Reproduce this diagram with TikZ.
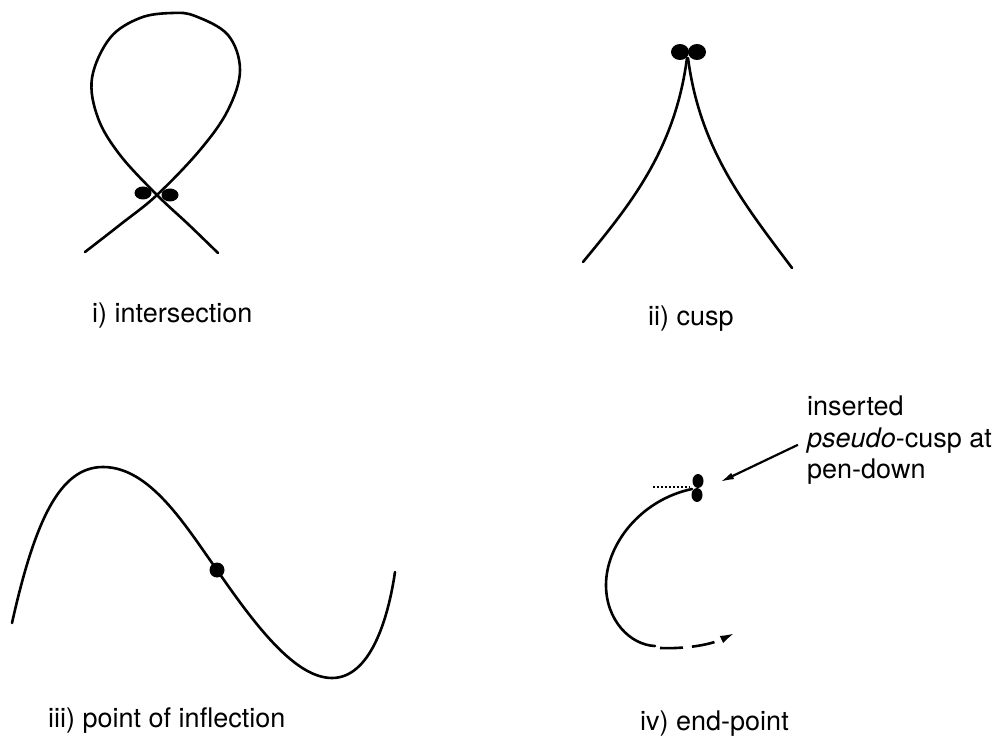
\documentclass[tikz,border=0pt]{standalone}
\usepackage{fontspec}
\setmainfont{TeX Gyre Heros}
\usetikzlibrary{arrows.meta,positioning}

\begin{document}
\begin{tikzpicture}[x=1pt,y=-1pt,
    curve/.style={line width=2.6pt, line cap=round},
    blob/.style={fill=black},
    caption/.style={anchor=base west, inner sep=0pt, font=\fontsize{27}{31.5}\selectfont}]
  \useasboundingbox (0,0) rectangle (1002,743);

  % i) intersection
  \draw[curve] plot[smooth, tension=0.6] coordinates {(85,252) (121,224) (157,195) (200,150) (228,110) (240,70)
      (228,35) (195,16) (172,13) (140,18) (110,38) (92,78) (98,118) (120,155) (157,195) (188,224) (218,253)};
  \fill[blob] (143,193) ellipse [x radius=8.5pt, y radius=6.5pt];
  \fill[blob] (170,195) ellipse [x radius=8.5pt, y radius=6.5pt];
  \node[caption] (capI) at (92,323) {i) intersection};

  % ii) cusp
  \draw[curve] (687,58) .. controls (675,150) and (630,205) .. (583,262);
  \draw[curve] (688,58) .. controls (700,150) and (745,205) .. (792,268);
  \foreach \x in {680,697}
    \fill[blob] (\x,52) ellipse [x radius=9pt, y radius=8pt];
  \node[caption] (capII) at (648,326) {ii) cusp};

  % iii) point of inflection
  \draw[curve] (12,623) .. controls (35,520) and (60,467) .. (103,467)
      .. controls (150,467) and (185,525) .. (217,570)
      .. controls (255,625) and (295,678) .. (332,678)
      .. controls (370,678) and (388,620) .. (395,572);
  \fill[blob] (217,570) circle (7.5pt);
  \node[caption] (capIII) at (48,727) {iii) point of inflection};

  % iv) end-point
  \draw[line width=1.3pt, dash pattern=on 2pt off 2pt] (653,487) -- (690,487);
  \draw[curve] (692,489) .. controls (640,500) and (606,545) .. (606,585)
      .. controls (606,620) and (630,645) .. (655,646);
  \draw[line width=2.6pt, dash pattern=on 23pt off 9pt, -{Latex[length=15pt,width=8pt]}]
      (660,648) .. controls (685,649) and (710,645) .. (735,633);
  \fill[blob] (698,481) ellipse [x radius=5.5pt, y radius=7pt];
  \fill[blob] (697,495) ellipse [x radius=5.5pt, y radius=7pt];
  \coordinate (pcusp) at (720,482);
  \node[caption, anchor=north west, align=left] (note) at (807,396)
      {inserted\\\textit{pseudo}-cusp at\\pen-down};
  \draw[line width=2.2pt, shorten <=10pt, -{Latex[length=14pt,width=7pt]}] (note.west) -- (pcusp);
  \node[caption] (capIV) at (640,730) {iv) end-point};
\end{tikzpicture}
\end{document}
